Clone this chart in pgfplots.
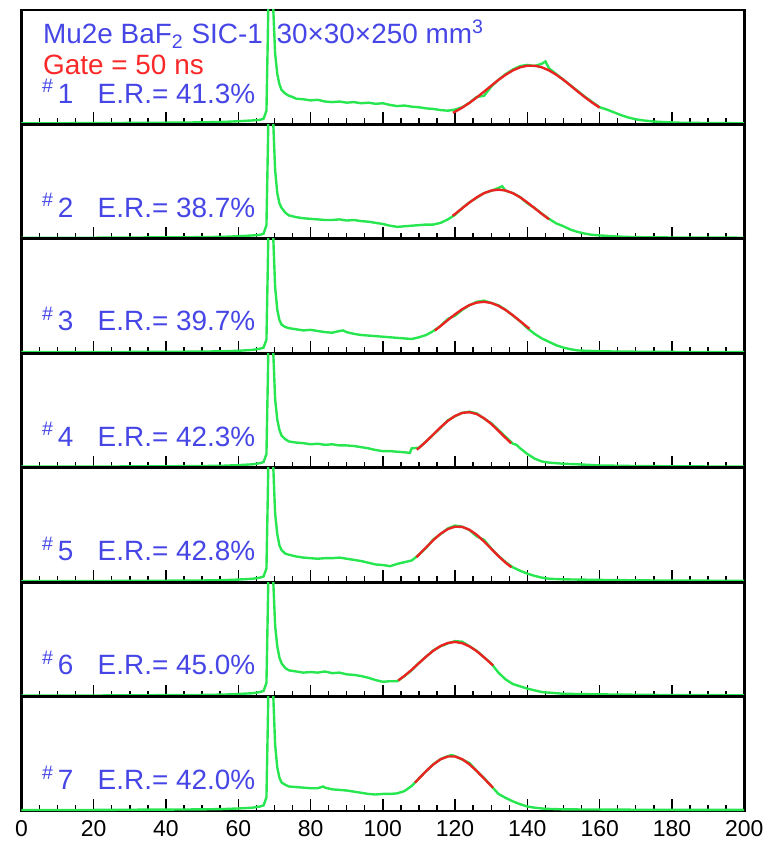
\documentclass[border=0pt]{standalone}
\usepackage{fontspec}
\setmainfont{Liberation Sans}
\usepackage{pgfplots}
\pgfplotsset{compat=1.18}

\definecolor{specgreen}{RGB}{40,230,80}
\definecolor{fitred}{RGB}{235,35,35}
\definecolor{lblue}{RGB}{70,70,230}
\definecolor{lred}{RGB}{250,40,40}

\newcommand{\lbl}{\fontsize{14}{16}\selectfont}

\pgfplotsset{
  panel/.style={
    scale only axis, width=362.5pt, height=57.4pt,
    anchor=north west,
    xmin=0, xmax=200, ymin=0, ymax=100,
    axis line style={black, line width=1.4pt},
    xtick={0,20,...,200}, minor x tick num=3,
    ytick=\empty, minor ytick={20,40,60,80},
    tick align=inside, xtick pos=bottom, ytick pos=left,
    major tick length=6pt, minor tick length=3pt,
    tick style={black, line width=0.7pt},
    xticklabels={},
    /pgf/number format/assume math mode=true,
  },
  specline/.style={specgreen, line width=1.2pt},
  fitline/.style={fitred, line width=1.2pt},
}
\tikzset{tb/.style={anchor=base west, inner sep=0pt, font=\lbl, text=lblue}}

\begin{document}
\begin{tikzpicture}
% ---- panel 1
\begin{axis}[panel, at={(0pt,0pt)}]
\addplot[specline] coordinates {(0,1)(10,1)(20,1.2)(30,1.3)(40,1.5)(50,1.8)(56,2.2)(60,2.8)(64,3.5)(66,4)(67,5)(67.8,12)(68.2,80)(68.5,150)(69.2,150)(69.7,100)(70.2,62)(70.8,44)(71.4,35)(72,30)(73,27)(74,25)(75,24)(76,22.5)(78,22)(80,21)(82,21.5)(84,20)(86,19.5)(88,20)(90,19)(92,19.5)(94,18.5)(96,19)(98,18)(100,18.5)(102,17)(104,16)(106,16.5)(108,15.5)(110,15)(112,14)(114,13.5)(116,12.5)(118,12)(120,13)(122,15)(124,19)(126,24)(128,25)(130,33)(132,39)(134,44)(136,48)(138,51)(140,52)(142,51)(144,53)(145,55)(146,49)(148,44)(150,39)(152,34)(154,29)(156,24)(158,19.5)(160,15)(162,13)(164,10.5)(166,8)(168,6)(170,4.5)(172,3.5)(175,2.5)(178,2)(182,1.5)(190,1.2)(200,1)};
\addplot[fitline] coordinates {(119.4,10.2)(120,11.1)(122,14.7)(124,18.9)(126,23.6)(128,28.6)(130,33.8)(132,38.9)(134,43.4)(136,47.2)(138,49.9)(140,51.3)(142,51.3)(144,49.9)(146,47.2)(148,43.4)(150,38.9)(152,33.8)(154,28.6)(156,23.6)(158,18.9)(160,14.7)};
\node[tb] at (axis cs:5.9,70.5) {Mu2e BaF\textsubscript{2} SIC-1};
\node[tb] at (axis cs:70.5,70.5) {30×30×250 mm\textsuperscript{3}};
\node[tb, text=lred] at (axis cs:5.9,44) {Gate = 50 ns};
\node[tb] at (axis cs:5.6,18.5) {\textsuperscript{\#}\hspace{2pt}1};
\node[tb] at (axis cs:21,18.5) {E.R.= 41.3\%};
\end{axis}
% ---- panel 2
\begin{axis}[panel, at={(0pt,-57.4pt)}]
\addplot[specline] coordinates {(0,1)(10,1)(20,1)(30,1.2)(40,1.3)(50,1.5)(56,1.8)(60,2.3)(64,3)(66,3.5)(67,4.5)(67.8,12)(68.2,80)(68.5,150)(69.2,150)(69.7,100)(70.2,60)(70.8,40)(71.4,31)(72,27)(73,23)(74,20.5)(76,19)(78,18)(80,17.5)(82,17)(84,16.5)(86,16.5)(88,17)(90,16)(92,16.5)(94,15.5)(96,15)(98,14)(100,13)(102,11.5)(104,10.5)(106,11)(108,11.5)(110,12)(112,12.5)(114,12.5)(116,14)(118,17)(120,21)(122,27)(124,32)(126,36)(128,40)(130,42)(132,44.5)(133,46)(134,42)(136,40)(138,36.5)(140,31)(142,27)(144,22)(146,17.5)(148,13.5)(150,11)(152,8)(154,6)(156,4.5)(158,3.5)(160,3)(165,2)(170,1.5)(180,1.2)(200,1)};
\addplot[fitline] coordinates {(119.3,20.1)(120,21.8)(122,26.8)(124,31.8)(126,36.3)(128,39.9)(130,42.2)(132,43)(134,42.2)(136,39.9)(138,36.3)(140,31.8)(142,26.8)(144,21.8)(146,17.1)};
\node[tb] at (axis cs:5.6,19) {\textsuperscript{\#}\hspace{2pt}2};
\node[tb] at (axis cs:21,19) {E.R.= 38.7\%};
\end{axis}
% ---- panel 3
\begin{axis}[panel, at={(0pt,-114.8pt)}]
\addplot[specline] coordinates {(0,1)(10,1)(20,1)(30,1.2)(40,1.3)(50,1.5)(56,1.8)(60,2.2)(64,3)(66,4)(67,5)(67.8,12)(68.2,80)(68.5,150)(69.2,150)(69.7,100)(70.2,58)(70.8,38)(71.4,29)(72,25)(73,23)(74,22)(76,21)(78,20)(80,20.5)(82,19.5)(84,18.5)(86,18)(88,19.5)(89,20)(90,18.5)(92,17)(94,16)(96,15.5)(98,15)(100,14.5)(102,14)(104,13.5)(106,13)(108,12.5)(110,14)(112,16)(114,19.5)(116,24)(118,30)(120,33)(122,38)(124,42)(126,45)(128,46)(130,44)(132,42)(134,38)(136,33)(138,28)(140,22)(142,17)(144,13)(146,10)(148,7)(150,5)(152,3.5)(154,2.5)(158,2)(165,1.5)(180,1.2)(200,1)};
\addplot[fitline] coordinates {(114.4,19.9)(116,23.9)(118,29.1)(120,34.1)(122,38.6)(124,42.2)(126,44.3)(128,45)(130,44)(132,41.5)(134,37.8)(136,33.2)(138,28.1)(140,22.9)(140.6,21.4)};
\node[tb] at (axis cs:5.6,19.5) {\textsuperscript{\#}\hspace{2pt}3};
\node[tb] at (axis cs:21,19.5) {E.R.= 39.7\%};
\end{axis}
% ---- panel 4
\begin{axis}[panel, at={(0pt,-172.2pt)}]
\addplot[specline] coordinates {(0,1)(10,1)(20,1)(30,1.2)(40,1.3)(50,1.5)(56,1.8)(60,2.3)(64,3)(66,4)(67,5)(67.8,12)(68.2,80)(68.5,150)(69.2,150)(69.7,100)(70.2,60)(70.8,42)(71.4,33)(72,28)(73,25)(74,23)(76,22)(78,21.5)(80,20.5)(82,21)(84,20)(86,20.5)(88,19.5)(90,19.5)(92,19)(94,18)(96,17)(98,15.5)(100,14.5)(102,14.5)(104,14)(106,13.5)(107.5,13)(108,17)(110,17.5)(112,23)(114,29)(116,35)(118,41.5)(120,45)(122,48)(124,49)(126,47.5)(128,43)(130,39)(132,33)(134,27)(136,21)(137,20)(138,17)(140,12)(142,8)(144,5.5)(146,4.5)(148,4)(150,3.5)(154,3)(160,2)(170,1.5)(185,1.2)(200,1)};
\addplot[fitline] coordinates {(109.4,15.8)(110,17.3)(112,23)(114,29.2)(116,35.4)(118,41)(120,45.3)(122,48)(124,48.5)(126,46.9)(128,43.3)(130,38.3)(132,32.3)(134,26)(135.5,21.5)};
\node[tb] at (axis cs:5.6,19) {\textsuperscript{\#}\hspace{2pt}4};
\node[tb] at (axis cs:21,19) {E.R.= 42.3\%};
\end{axis}
% ---- panel 5
\begin{axis}[panel, at={(0pt,-229.6pt)}]
\addplot[specline] coordinates {(0,1)(10,1)(20,1)(30,1.2)(40,1.3)(50,1.5)(56,1.8)(60,2.3)(64,3)(66,4)(67,5)(67.8,12)(68.2,80)(68.5,150)(69.2,150)(69.7,100)(70.2,60)(70.8,42)(71.4,32)(72,28)(73,25)(74,24)(76,22.5)(78,21.5)(80,21)(82,20.5)(84,21)(86,21)(88,21.5)(90,20.5)(92,19.5)(94,18.5)(96,17)(98,15.5)(100,15)(102,14)(104,16)(106,17.5)(108,19)(110,24)(112,30)(114,37.5)(116,42)(118,47)(120,49.5)(122,48.5)(124,45.5)(126,40)(128,37)(130,29.5)(132,23)(134,17.5)(136,13)(138,10)(140,7.5)(142,5.5)(144,4)(146,3)(150,2.5)(160,2)(175,1.5)(200,1.2)};
\addplot[fitline] coordinates {(109.3,21.9)(110,24.1)(112,30.5)(114,36.8)(116,42.4)(118,46.4)(120,48.5)(122,48.3)(124,45.8)(126,41.4)(128,35.6)(130,29.2)(132,22.8)(134,17)(135.6,13)};
\node[tb] at (axis cs:5.6,19) {\textsuperscript{\#}\hspace{2pt}5};
\node[tb] at (axis cs:21,19) {E.R.= 42.8\%};
\end{axis}
% ---- panel 6
\begin{axis}[panel, at={(0pt,-287pt)}]
\addplot[specline] coordinates {(0,1)(10,1)(20,1)(30,1.2)(40,1.3)(50,1.5)(56,1.8)(60,2.3)(64,3)(66,4)(67,5)(67.8,12)(68.2,80)(68.5,150)(69.2,150)(69.7,100)(70.2,62)(70.8,44)(71.4,34)(72,29)(73,25)(74,23)(76,22)(78,21)(80,21.5)(82,21)(84,22)(86,20.5)(88,21)(90,19.5)(92,19)(94,18)(96,16.5)(98,14.5)(100,13)(102,13.5)(104,13.5)(106,18)(108,23)(110,29.5)(112,35)(114,40.5)(116,44)(118,46.5)(120,48.5)(122,48)(124,44)(126,40)(128,34.5)(130,29)(132,21)(134,15)(136,11)(138,9)(140,7)(142,5.5)(144,4)(146,3.5)(150,2.5)(160,2)(175,1.5)(200,1.2)};
\addplot[fitline] coordinates {(104.3,14.2)(106,18.2)(108,23.5)(110,29.3)(112,35)(114,40.2)(116,44.3)(118,46.9)(120,47.8)(122,46.7)(124,43.9)(126,39.7)(128,34.4)(130,28.7)(130.5,27.2)};
\node[tb] at (axis cs:5.6,19) {\textsuperscript{\#}\hspace{2pt}6};
\node[tb] at (axis cs:21,19) {E.R.= 45.0\%};
\end{axis}
% ---- panel 7
\begin{axis}[panel, at={(0pt,-344.4pt)},
  xticklabels={0,20,40,60,80,100,120,140,160,180,200},
  xticklabel style={font=\fontsize{11.5}{12}\selectfont, yshift=-1pt}]
\addplot[specline] coordinates {(0,1)(10,1)(20,1)(30,1.2)(40,1.3)(50,1.5)(56,1.8)(60,2.3)(64,3)(66,4)(67,5)(67.8,12)(68.2,80)(68.5,150)(69.2,150)(69.7,100)(70.2,58)(70.8,38)(71.4,29)(72,25)(73,23)(74,21.5)(76,21)(78,20.5)(80,20)(82,20)(83.5,21.5)(84,20.5)(86,19)(88,18.5)(90,18)(92,17)(94,16)(96,15)(98,14.5)(100,15)(102,15)(104,15.5)(106,17.5)(108,22)(110,28.5)(112,35)(114,41)(116,45.5)(118,48)(119,49)(120,48)(122,45)(124,42)(126,35)(128,29)(130,22)(132,15)(134,11.5)(136,8.5)(138,6)(140,4)(142,3)(145,2)(150,1.5)(170,1.2)(200,1)};
\addplot[fitline] coordinates {(108.9,24.8)(110,28.5)(112,35)(114,40.8)(116,45.3)(118,47.7)(120,47.7)(122,45.3)(124,40.8)(126,35)(128,28.5)(130,22)(130.5,20.4)};
\node[tb] at (axis cs:5.6,18.5) {\textsuperscript{\#}\hspace{2pt}7};
\node[tb] at (axis cs:21,18.5) {E.R.= 42.0\%};
\end{axis}
\path (-10.75pt,5pt) rectangle (377.25pt,-416.5pt);
\end{tikzpicture}
\end{document}
